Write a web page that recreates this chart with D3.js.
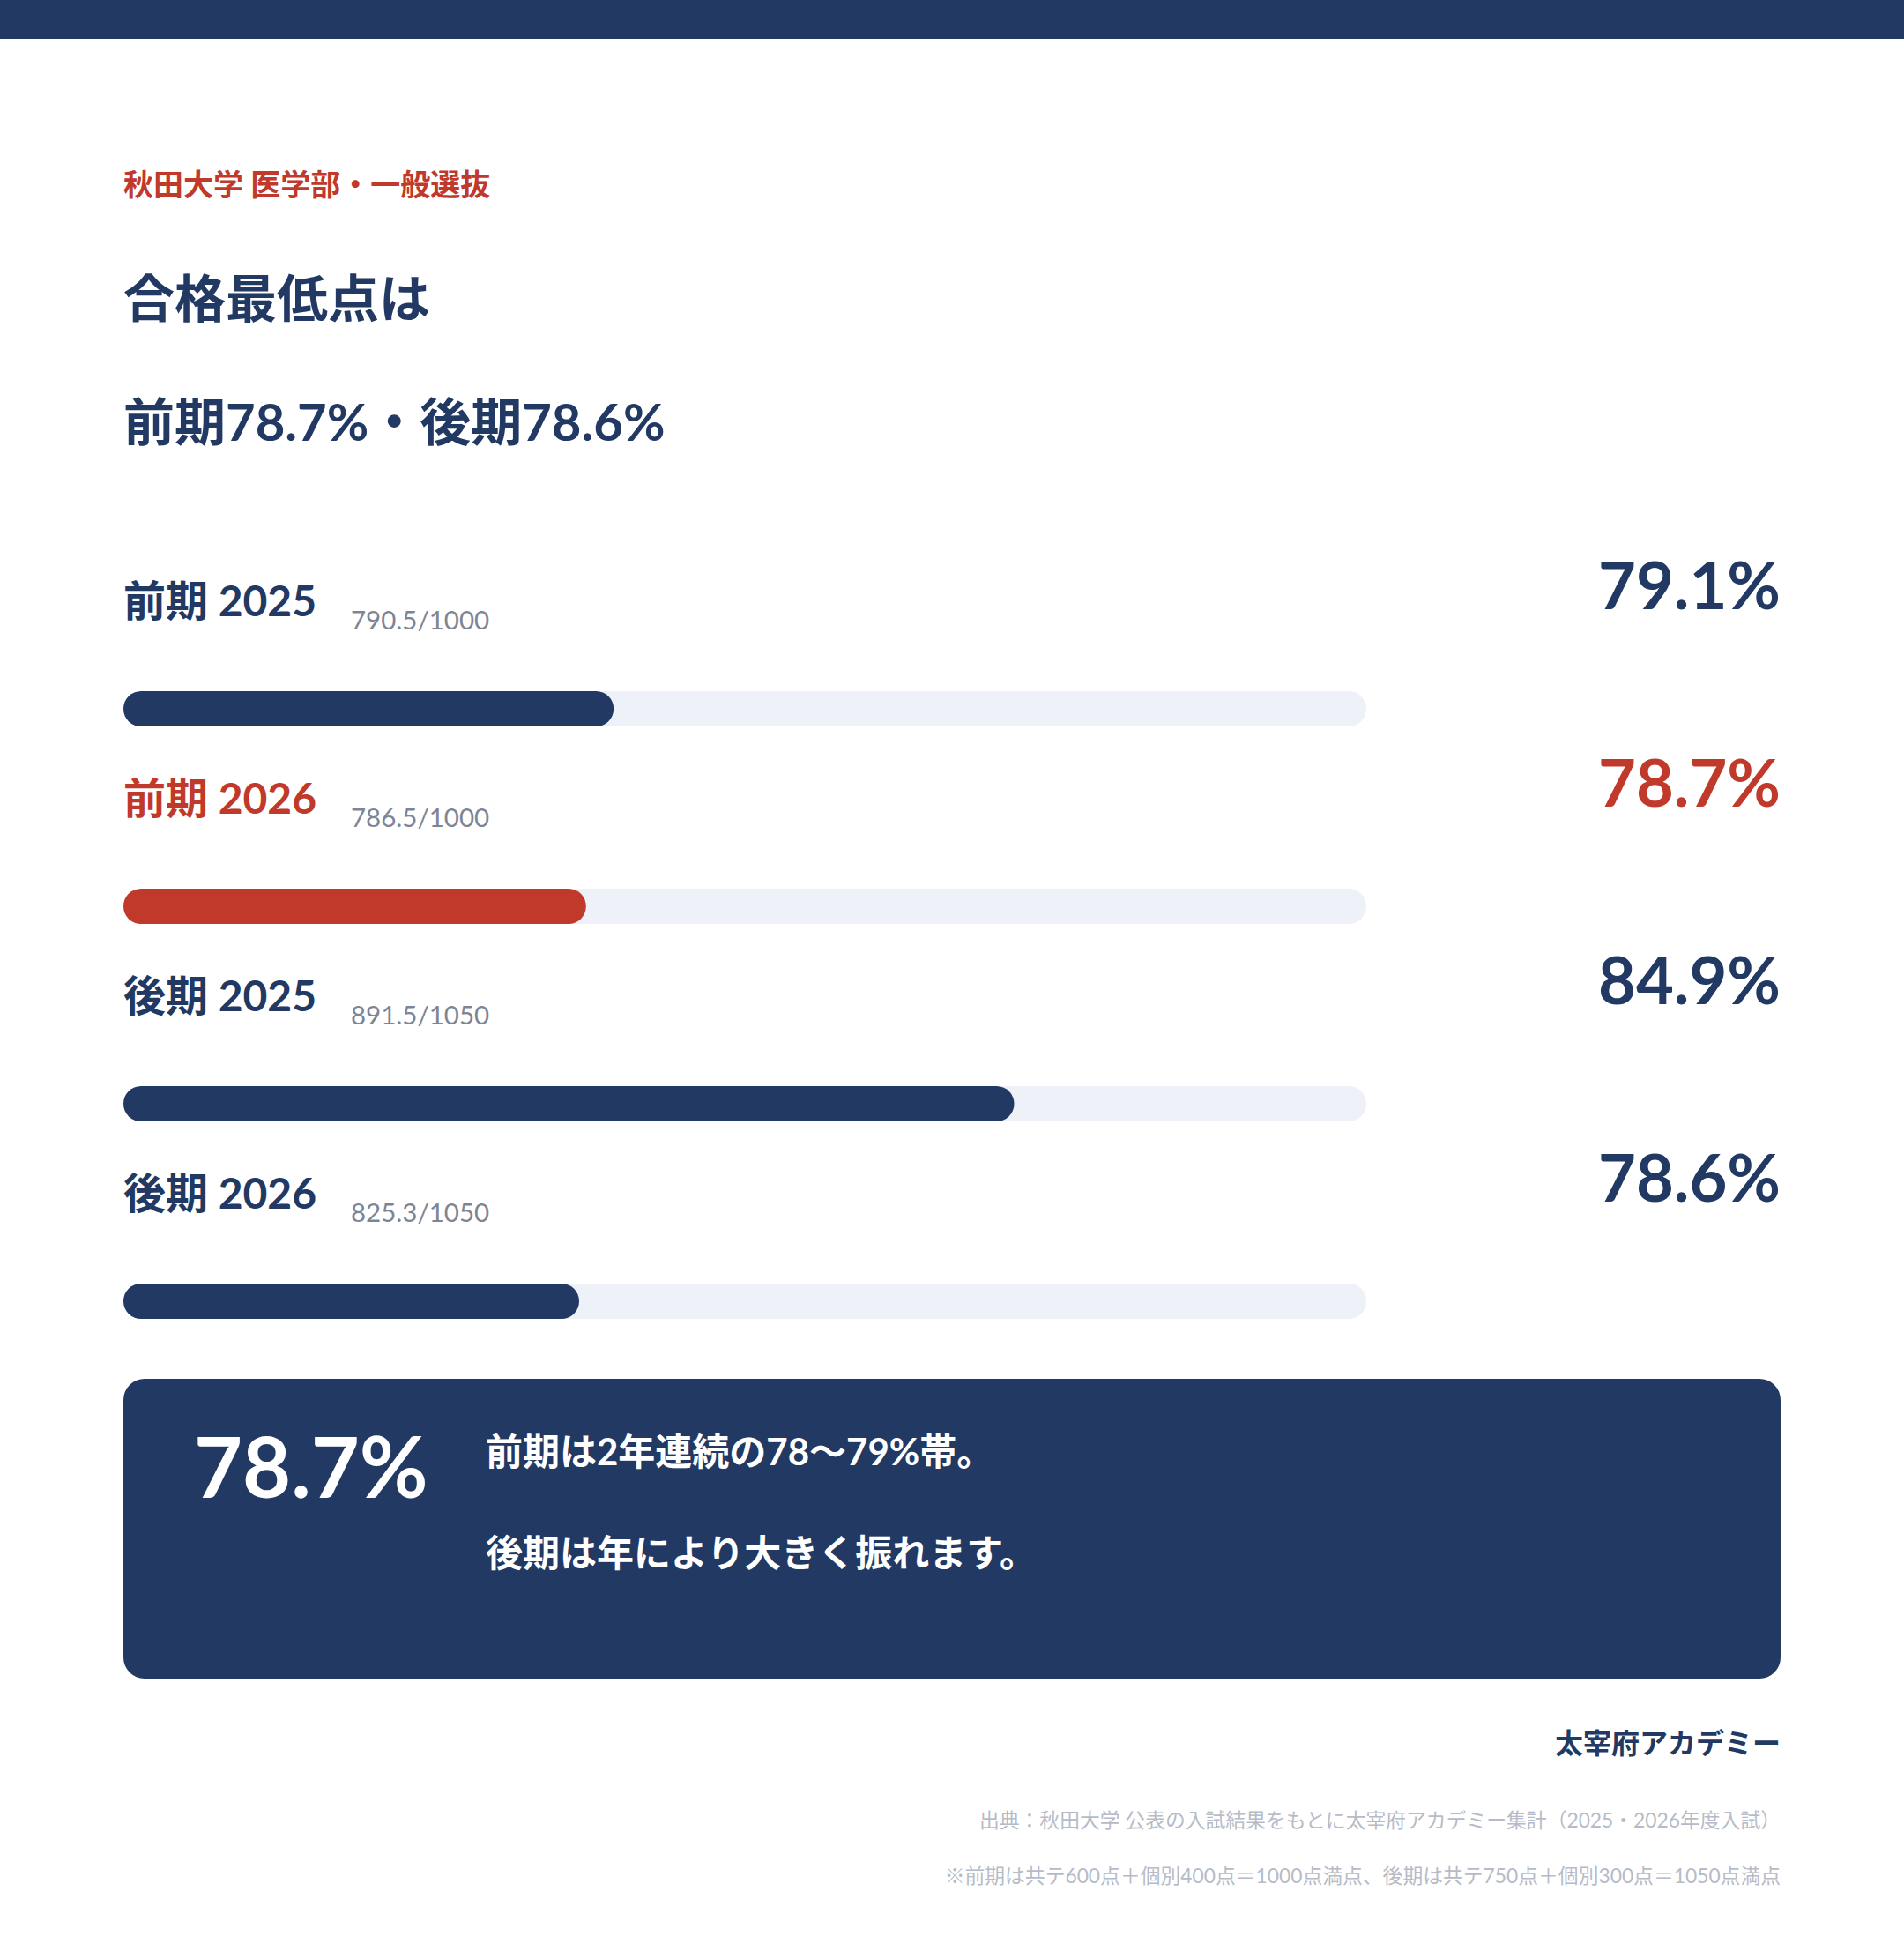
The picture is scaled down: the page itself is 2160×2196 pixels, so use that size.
<!DOCTYPE html>
<html lang="ja">
<head>
<meta charset="utf-8">
<script src="https://cdn.jsdelivr.net/npm/d3@7/dist/d3.min.js"></script>
<style>
  html, body { margin: 0; padding: 0; background: #ffffff; }
  svg { display: block; }
  text { font-family: "Lato", "Noto Sans CJK JP", sans-serif; }
</style>
</head>
<body>
<svg id="chart" width="2160" height="2196"></svg>
<script>
// ---- data ----
const kicker = "秋田大学 医学部・一般選抜";
const titleLines = ["合格最低点は", "前期78.7%・後期78.6%"];
const categories = ["前期 2025", "前期 2026", "後期 2025", "後期 2026"];
const scores = ["790.5", "786.5", "891.5", "825.3"];
const fullMarks = ["1000", "1000", "1050", "1050"];
const rates = [79.1, 78.7, 84.9, 78.6];
const highlighted = [false, true, false, false];
const scaleDomain = [72, 90];
const calloutValue = "78.7%";
const calloutLines = ["前期は2年連続の78〜79%帯。", "後期は年により大きく振れます。"];
const brand = "太宰府アカデミー";
const footnotes = [
  "出典：秋田大学 公表の入試結果をもとに太宰府アカデミー集計（2025・2026年度入試）",
  "※前期は共テ600点＋個別400点＝1000点満点、後期は共テ750点＋個別300点＝1050点満点"
];

// ---- style ----
const NAVY = "#213963", RED = "#c0392b", TRACK = "#eef1f8", GRAY = "#7d8595", LIGHT = "#b6bbc7";
const W = 2160, H = 2196, L = 140, R = 2020;
const trackRight = L + (R - L) * 0.75;

const svg = d3.select("#chart");
svg.append("rect").attr("x", 0).attr("y", 0).attr("width", W).attr("height", H).attr("fill", "#fff");
svg.append("rect").attr("x", 0).attr("y", 0).attr("width", W).attr("height", 44).attr("fill", NAVY);

svg.append("text").attr("x", L).attr("y", 222)
  .attr("font-size", 34).attr("font-weight", 700).attr("fill", RED).text(kicker);

svg.selectAll("text.title").data(titleLines).join("text").attr("class", "title")
  .attr("x", L).attr("y", (d, i) => 360 + i * 140)
  .attr("font-size", 58).attr("font-weight", 700).attr("fill", NAVY).text(d => d);

// ---- bars ----
const x = d3.scaleLinear().domain(scaleDomain).range([L, trackRight]);
const y = d3.scaleLinear().domain([0, 1]).range([0, 224]);
const rows = svg.selectAll("g.row").data(categories).join("g").attr("class", "row")
  .attr("transform", (d, i) => `translate(0,${y(i)})`);

rows.append("text").attr("x", L).attr("y", 699)
  .attr("font-size", 48).attr("font-weight", 700)
  .attr("fill", (d, i) => highlighted[i] ? RED : NAVY).text(d => d);

rows.append("text").attr("x", 398).attr("y", 714)
  .attr("font-size", 29.5).attr("fill", GRAY)
  .text((d, i) => `${scores[i]}/${fullMarks[i]}`);

rows.append("text").attr("x", R).attr("y", 691).attr("text-anchor", "end")
  .attr("font-size", 74).attr("font-weight", 700)
  .attr("fill", (d, i) => highlighted[i] ? RED : NAVY)
  .text((d, i) => rates[i].toFixed(1) + "%");

rows.append("rect").attr("x", x(scaleDomain[0])).attr("y", 784)
  .attr("width", x(scaleDomain[1]) - x(scaleDomain[0])).attr("height", 40)
  .attr("rx", 20).attr("fill", TRACK);

rows.append("rect").attr("x", x(scaleDomain[0])).attr("y", 784)
  .attr("width", (d, i) => x(rates[i]) - x(scaleDomain[0])).attr("height", 40)
  .attr("rx", 20).attr("fill", (d, i) => highlighted[i] ? RED : NAVY);

// ---- callout ----
svg.append("rect").attr("x", L).attr("y", 1564).attr("width", R - L).attr("height", 340)
  .attr("rx", 24).attr("fill", NAVY);
svg.append("text").attr("x", 220).attr("y", 1699)
  .attr("font-size", 95).attr("font-weight", 700).attr("fill", "#fff").text(calloutValue);
svg.selectAll("text.cl").data(calloutLines).join("text").attr("class", "cl")
  .attr("x", 551).attr("y", (d, i) => 1662 + i * 115)
  .attr("font-size", 42).attr("font-weight", 700).attr("fill", "#fff").text(d => d);

// ---- footer ----
svg.append("text").attr("x", R).attr("y", 1989).attr("text-anchor", "end")
  .attr("font-size", 32).attr("font-weight", 700).attr("fill", NAVY).text(brand);
svg.selectAll("text.fn").data(footnotes).join("text").attr("class", "fn")
  .attr("x", R).attr("y", (d, i) => 2073 + i * 63).attr("text-anchor", "end")
  .attr("font-size", 22.8).attr("fill", LIGHT).text(d => d);
</script>
</body>
</html>
